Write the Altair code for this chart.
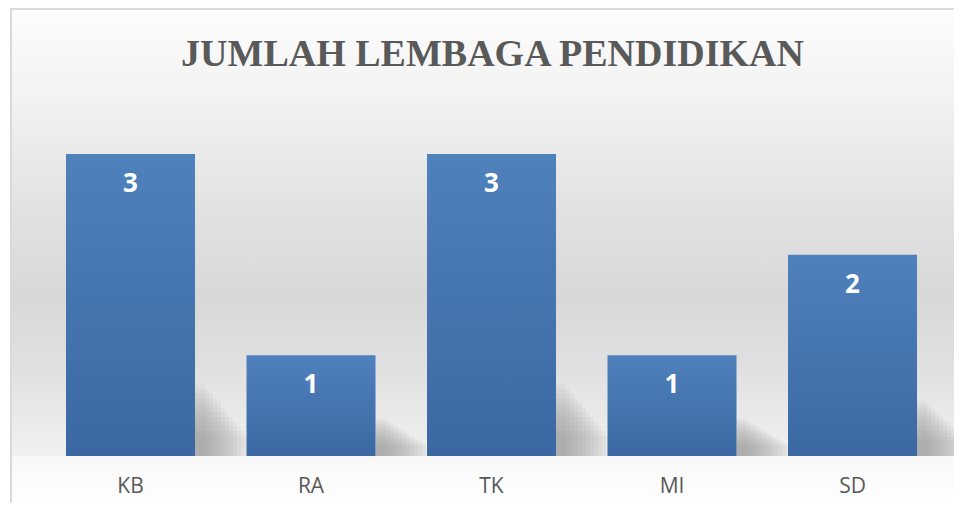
import altair as alt
import pandas as pd

# ---- data ----
categories = ["KB", "RA", "TK", "MI", "SD"]
values = [3, 1, 3, 1, 2]
chart_title = "JUMLAH LEMBAGA PENDIDIKAN"

df = pd.DataFrame({"kategori": categories, "jumlah": values})
one = pd.DataFrame({"k": [0]})

W, H = 943, 446
BOTTOM = 47
HALF_BAR = 64.5

x_enc = alt.X(
    "kategori:N",
    sort=categories,
    scale=alt.Scale(paddingInner=0.2853, paddingOuter=0.2548, align=0.598),
    axis=alt.Axis(
        title=None, domain=False, ticks=False, tickSize=0, grid=False,
        labelPadding=30, labelBaseline="middle", labelAngle=0, zindex=1,
        labelFont="Open Sans", labelFontSize=21, labelColor="#595959",
    ),
)
y_scale = alt.Scale(domain=[0, 4.43], nice=False, zero=True)

wall_grad = {
    "gradient": "linear", "x1": 0, "y1": 0, "x2": 0, "y2": 1,
    "stops": [
        {"offset": 0.0, "color": "#fdfdfd"},
        {"offset": 0.2, "color": "#f2f2f2"},
        {"offset": 0.43, "color": "#e3e3e3"},
        {"offset": 0.64, "color": "#d8d8d8"},
        {"offset": 0.80, "color": "#e0e0e0"},
        {"offset": 0.93, "color": "#ebebeb"},
        {"offset": 1.0, "color": "#f1f1f1"},
    ],
}
floor_grad = {
    "gradient": "linear", "x1": 0, "y1": 0, "x2": 0, "y2": 1,
    "stops": [
        {"offset": 0.0, "color": "#f8f8f8"},
        {"offset": 1.0, "color": "#ffffff"},
    ],
}
bar_grad = {
    "gradient": "linear", "x1": 0, "y1": 0, "x2": 0, "y2": 1,
    "stops": [
        {"offset": 0.0, "color": "#4f81bd"},
        {"offset": 1.0, "color": "#3b68a2"},
    ],
}

wall = alt.Chart(one).mark_rect(fill=wall_grad).encode(
    x=alt.value(0), x2=alt.value(W), y=alt.value(0), y2=alt.value(H)
)
floor = alt.Chart(one).mark_rect(fill=floor_grad).encode(
    x=alt.value(0), x2=alt.value(W), y=alt.value(H), y2=alt.value(H + BOTTOM)
)
left_border = alt.Chart(one).mark_rule(color="#dadada", strokeWidth=2).encode(
    x=alt.value(0), y=alt.value(-2), y2=alt.value(H + BOTTOM)
)
top_border = alt.Chart(one).mark_rule(color="#dadada", strokeWidth=2).encode(
    x=alt.value(-1), x2=alt.value(W), y=alt.value(-1)
)

# soft perspective shadow behind each bar: many translucent layers
shadow_layers = []
N = 12
for i in range(N):
    w = 10 + 4 * i
    frac = 1 - 0.065 * i
    shadow_layers.append(
        alt.Chart(df)
        .transform_calculate(stop=f"min(0.2 + 0.17 * datum.jumlah, 0.72) * {frac}")
        .mark_bar(width=w, xOffset=HALF_BAR + w / 2, color="#8c8c8c", opacity=0.08)
        .encode(x=x_enc, y=alt.Y("stop:Q", scale=y_scale, axis=None))
    )

bars = alt.Chart(df).mark_bar(fill=bar_grad).encode(
    x=x_enc, y=alt.Y("jumlah:Q", scale=y_scale, axis=None)
)

labels = alt.Chart(df).mark_text(
    dy=30, baseline="middle", align="center", font="Open Sans",
    fontSize=26, fontWeight="bold", color="white",
).encode(x=x_enc, y=alt.Y("jumlah:Q", scale=y_scale, axis=None), text="jumlah:Q")

chart = (
    alt.layer(wall, floor, left_border, top_border, *shadow_layers, bars, labels)
    .properties(
        width=W,
        height=H,
        padding={"left": 3, "top": 2, "right": 0, "bottom": BOTTOM},
        autosize=alt.AutoSizeParams(type="none"),
        title=alt.TitleParams(
            chart_title, font="Liberation Serif", fontSize=38, fontWeight="bold",
            color="#595959", anchor="middle", frame="group",
            baseline="alphabetic", offset=-97, dx=10,
        ),
        background="white",
    )
    .configure_view(strokeWidth=0)
)

chart.save("out.html", embed_options={"renderer": "svg", "actions": False})
